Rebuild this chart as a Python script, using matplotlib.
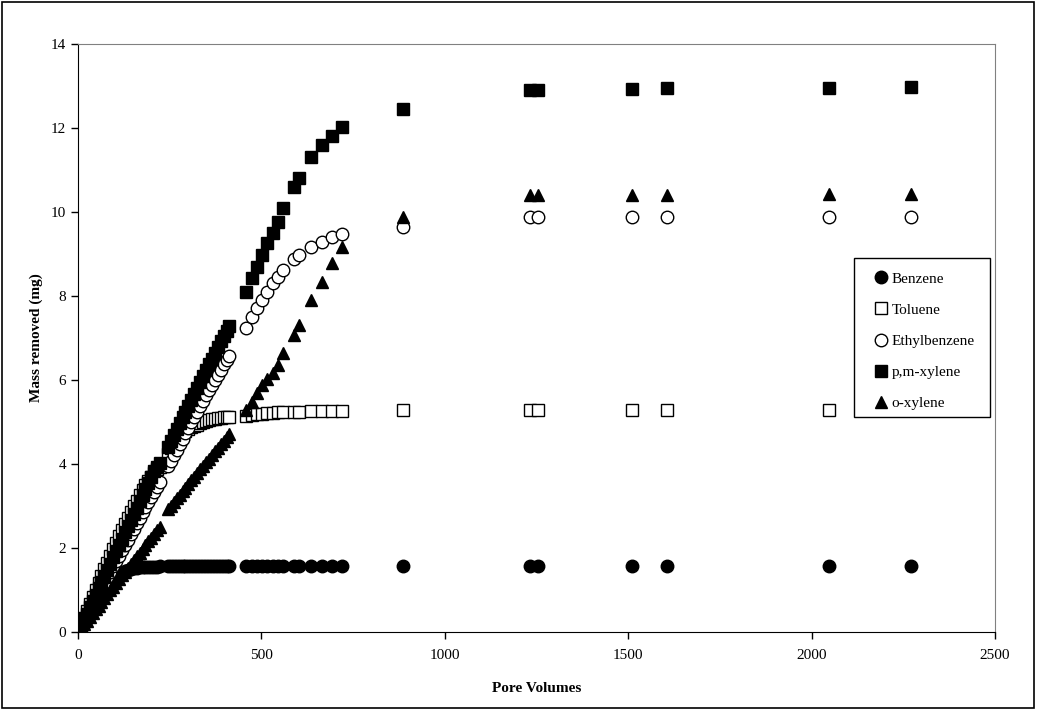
import matplotlib
matplotlib.use("Agg")
import matplotlib.pyplot as plt
from matplotlib.patches import Rectangle

# Pore volumes at which samples were taken (shared by all compounds)
pore_volumes = [
    0, 2, 8, 16, 24, 32, 40, 48, 56, 64, 72, 80, 88, 96, 104, 112, 120, 128, 136, 144,
    152, 160, 168, 176, 184, 192, 200, 208, 216, 224,
    245, 253, 261, 269, 277, 285, 293, 301, 309, 317, 325, 333, 341, 349, 357, 365,
    373, 381, 389, 397, 405, 413,
    458, 474, 487, 502, 516, 531, 545, 559, 589, 603, 634, 664, 692, 719,
    885, 1231, 1253, 1509, 1607, 2048, 2271,
]

benzene = [
    0, 0.02, 0.1, 0.2, 0.3, 0.4, 0.5, 0.6, 0.7, 0.8, 0.9, 1.0, 1.1, 1.19, 1.28, 1.35, 1.41, 1.45, 1.48, 1.5,
    1.52, 1.53, 1.54, 1.545, 1.55, 1.55, 1.55, 1.555, 1.555, 1.56,
    1.56, 1.56, 1.56, 1.56, 1.56, 1.56, 1.56, 1.56, 1.565, 1.565, 1.565, 1.565, 1.565, 1.565, 1.565, 1.565,
    1.565, 1.565, 1.565, 1.565, 1.565, 1.565,
    1.57, 1.57, 1.57, 1.57, 1.57, 1.57, 1.57, 1.57, 1.57, 1.57, 1.57, 1.57, 1.57, 1.57,
    1.57, 1.57, 1.57, 1.57, 1.57, 1.57, 1.57,
]

toluene = [
    0, 0.04, 0.17, 0.34, 0.5, 0.67, 0.84, 1.0, 1.17, 1.33, 1.49, 1.65, 1.81, 1.97, 2.12, 2.28, 2.43, 2.58, 2.72, 2.86,
    3.0, 3.13, 3.26, 3.38, 3.49, 3.6, 3.7, 3.79, 3.87, 3.94,
    4.25, 4.38, 4.49, 4.58, 4.66, 4.72, 4.78, 4.83, 4.87, 4.91, 4.94, 4.97, 5.0, 5.02, 5.04, 5.06,
    5.08, 5.09, 5.1, 5.11, 5.12, 5.13,
    5.15, 5.17, 5.19, 5.2, 5.21, 5.22, 5.23, 5.23, 5.24, 5.25, 5.26, 5.26, 5.27, 5.27,
    5.28, 5.28, 5.28, 5.28, 5.28, 5.28, 5.28,
]

ethylbenzene = [
    0, 0.03, 0.13, 0.26, 0.39, 0.52, 0.65, 0.78, 0.91, 1.04, 1.17, 1.3, 1.43, 1.56, 1.69, 1.82, 1.95, 2.07, 2.2, 2.33,
    2.46, 2.59, 2.72, 2.85, 2.98, 3.1, 3.22, 3.34, 3.46, 3.57,
    3.95, 4.08, 4.21, 4.34, 4.47, 4.6, 4.73, 4.86, 4.99, 5.12, 5.25, 5.38, 5.51, 5.64, 5.77, 5.89,
    6.01, 6.13, 6.25, 6.37, 6.48, 6.58,
    7.24, 7.5, 7.71, 7.9, 8.1, 8.3, 8.45, 8.62, 8.88, 8.98, 9.17, 9.29, 9.4, 9.48,
    9.65, 9.88, 9.88, 9.89, 9.89, 9.89, 9.89,
]

pm_xylene = [
    0, 0.03, 0.15, 0.3, 0.44, 0.59, 0.74, 0.89, 1.04, 1.18, 1.33, 1.48, 1.63, 1.78, 1.92, 2.07, 2.22, 2.37, 2.52, 2.66,
    2.81, 2.96, 3.11, 3.26, 3.4, 3.55, 3.7, 3.83, 3.94, 4.02,
    4.4, 4.55, 4.69, 4.83, 4.97, 5.11, 5.25, 5.39, 5.53, 5.67, 5.81, 5.95, 6.09, 6.23, 6.37, 6.51,
    6.65, 6.79, 6.92, 7.05, 7.17, 7.28,
    8.1, 8.43, 8.7, 8.98, 9.26, 9.5, 9.76, 10.1, 10.6, 10.8, 11.3, 11.6, 11.8, 12.03,
    12.45, 12.9, 12.9, 12.93, 12.95, 12.96, 12.97,
]

o_xylene = [
    0, 0.02, 0.09, 0.18, 0.27, 0.36, 0.45, 0.54, 0.63, 0.72, 0.81, 0.9, 0.99, 1.08, 1.17, 1.26, 1.35, 1.44, 1.53, 1.62,
    1.71, 1.8, 1.89, 1.98, 2.07, 2.16, 2.25, 2.34, 2.43, 2.51,
    2.92, 3.01, 3.1, 3.19, 3.27, 3.36, 3.44, 3.53, 3.61, 3.7, 3.79, 3.87, 3.96, 4.04, 4.13, 4.21,
    4.3, 4.38, 4.47, 4.55, 4.64, 4.72,
    5.29, 5.48, 5.69, 5.88, 6.02, 6.17, 6.36, 6.64, 7.07, 7.31, 7.9, 8.33, 8.78, 9.17,
    9.88, 10.4, 10.4, 10.41, 10.41, 10.42, 10.42,
]

plt.rcParams['font.family'] = ['Liberation Serif', 'DejaVu Serif']

W, H = 1037, 710
fig = plt.figure(figsize=(W / 100, H / 100), dpi=100)
ax = fig.add_axes([78 / W, 1 - 632 / H, (995 - 78) / W, (632 - 44) / H])

# outer frame around the whole chart
fig.patches.append(Rectangle((0.002, 0.003), 0.995, 0.994, transform=fig.transFigure,
                             fill=False, edgecolor='black', linewidth=1.2))

ms = 9
ax.plot(pore_volumes, benzene, 'o', color='black', markersize=ms, label='Benzene')
ax.plot(pore_volumes, toluene, 's', markerfacecolor='white', markeredgecolor='black',
        markeredgewidth=1.0, markersize=ms - 0.5, label='Toluene')
ax.plot(pore_volumes, ethylbenzene, 'o', markerfacecolor='white', markeredgecolor='black',
        markeredgewidth=1.0, markersize=ms, label='Ethylbenzene')
ax.plot(pore_volumes, pm_xylene, 's', color='black', markersize=ms - 0.5, label='p,m-xylene')
ax.plot(pore_volumes, o_xylene, '^', color='black', markersize=ms, label='o-xylene')

ax.set_xlim(0, 2500)
ax.set_ylim(0, 14)
ax.set_xticks([0, 500, 1000, 1500, 2000, 2500])
ax.set_yticks([0, 2, 4, 6, 8, 10, 12, 14])
ax.tick_params(direction='out', length=5, width=1, labelsize=11)
ax.tick_params(axis='x', pad=7)

for side in ['top', 'right']:
    ax.spines[side].set_color('#808080')
for side in ['left', 'bottom']:
    ax.spines[side].set_color('black')

ax.set_xlabel('Pore Volumes', fontsize=11, fontweight='bold', labelpad=15)
ax.set_ylabel('Mass removed (mg)', fontsize=11, fontweight='bold', labelpad=6)

# legend frame (white, covers the data beneath it)
fig.patches.append(Rectangle((854 / W, 1 - 417 / H), (990 - 854) / W, (417 - 258) / H,
                             transform=fig.transFigure, facecolor='white',
                             edgecolor='black', linewidth=1.0, zorder=2))

handles, labels = ax.get_legend_handles_labels()
leg = fig.legend(handles, labels, loc='upper left', bbox_to_anchor=(873 / W, 1 - 272 / H),
                 frameon=False, fontsize=11, handlelength=1.0, handletextpad=0.2,
                 labelspacing=1.14, borderpad=0, borderaxespad=0)
leg.set_zorder(5)

fig.savefig('out.png', dpi=100)
